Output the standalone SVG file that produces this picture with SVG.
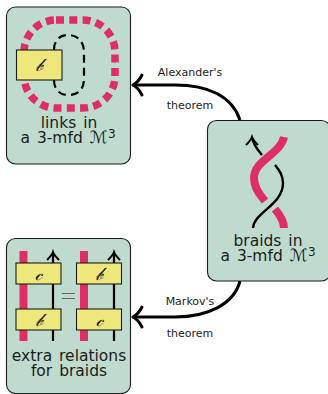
<svg xmlns="http://www.w3.org/2000/svg" width="328" height="394" viewBox="0 0 328 394">
<style>
.node{fill:#bfdbcd;stroke:#1c1c1c;stroke-width:1.1}
.box{fill:#eee77c;stroke:#1c1c1c;stroke-width:1.1}
.pink{fill:none;stroke:#df2e64;stroke-width:8}
.blk{fill:none;stroke:#000;stroke-width:2.4}
.lbl{font-family:"DejaVu Sans",sans-serif;font-size:15.500px;fill:#1c1c1c;text-anchor:middle;word-spacing:2px}
.m{font-style:italic;font-size:17px}
.thm{font-family:"DejaVu Sans",sans-serif;font-size:11px;fill:#1c1c1c;text-anchor:middle}
.scr{font-family:"DejaVu Sans","Noto Sans",sans-serif;font-style:italic;font-size:18px;fill:#1c1c1c;text-anchor:middle}
.conn{fill:none;stroke:#000;stroke-width:3}
</style>
<defs>
<path id="head" d="M0 0C4 -2 7 -6 9 -10M0 0C4 2 7 6 9 10" fill="none" stroke="#000" stroke-width="3" stroke-linecap="round"/>
<path id="small" d="M-6 8C-3 5 -1 3 0 0C1 3 3 5 6 8" fill="none" stroke="#000" stroke-width="2"/>
</defs>
<g id="connectors">
<path class="conn" d="M240 120C232 96 208 85 175 85L134 85"/>
<use href="#head" x="133" y="85"/>
<path class="conn" d="M240 281C234 304 208 317 175 317L134 317"/>
<use href="#head" x="133" y="317"/>
<text class="thm" x="190" y="76">Alexander's</text>
<text class="thm" x="190" y="109">theorem</text>
<text class="thm" x="190" y="305">Markov's</text>
<text class="thm" x="190" y="337">theorem</text>
</g>
<g id="node-links">
<rect class="node" x="6.500" y="7" width="124" height="157" rx="9"/>
<rect x="24" y="20" width="91" height="88" rx="32" fill="none" stroke="#df2e64" stroke-width="7.500" stroke-dasharray="8 5.300"/>
<path d="M54 50C54 40 60 35 68 35C78 35 84 42 84 52L84 78C84 90 78 95 68 95C60 95 54 90 54 80" fill="none" stroke="#000" stroke-width="2.200" stroke-dasharray="8 5"/>
<rect class="box" x="16.500" y="50" width="45.500" height="30"/>
<text class="scr" x="39" y="71">𝒷</text>
<text class="lbl" x="69" y="128">links in</text>
<text class="lbl" x="68" y="143">a 3-mfd <tspan class="m">ℳ</tspan><tspan dy="-5" font-size="12">3</tspan></text>
</g>
<g id="node-braids">
<rect class="node" x="207.500" y="120.500" width="123" height="160.500" rx="9"/>
<path class="pink" d="M284 137C280 155 254 160 254 178C254 190 262 197 265 201"/>
<path class="pink" d="M275 209C280 215 284 221 284 228"/>
<path class="blk" d="M253 228C254 212 283 205 283 183C283 175 279 170 275 165"/>
<path class="blk" d="M262 155C258 150 254 146 252 138"/>
<use href="#small" x="252" y="137"/>
<text class="lbl" x="268" y="246">braids in</text>
<text class="lbl" x="268" y="261">a 3-mfd <tspan class="m">ℳ</tspan><tspan dy="-5" font-size="12">3</tspan></text>
</g>
<g id="node-relations">
<rect class="node" x="6.500" y="238.500" width="124" height="155" rx="9"/>
<path d="M23.500 251V341M84 251V341" fill="none" stroke="#df2e64" stroke-width="8"/>
<path d="M53 254V341M114 254V341" fill="none" stroke="#000" stroke-width="2.200"/>
<use href="#small" x="53" y="252"/>
<use href="#small" x="114" y="252"/>
<rect class="box" x="16" y="263" width="45" height="21"/>
<rect class="box" x="16" y="309" width="45" height="21"/>
<rect class="box" x="76.500" y="263" width="45" height="21"/>
<rect class="box" x="76.500" y="309" width="45" height="21"/>
<text class="scr" x="38.500" y="280">𝒸</text>
<text class="scr" x="38.500" y="326">𝒷</text>
<text class="scr" x="99" y="280">𝒷</text>
<text class="scr" x="99" y="326">𝒸</text>
<path d="M62 293.500H75M62 298.500H75" stroke="#666" stroke-width="1" fill="none"/>
<text class="lbl" x="69" y="361">extra relations</text>
<text class="lbl" x="69" y="376">for braids</text>
</g>
</svg>
